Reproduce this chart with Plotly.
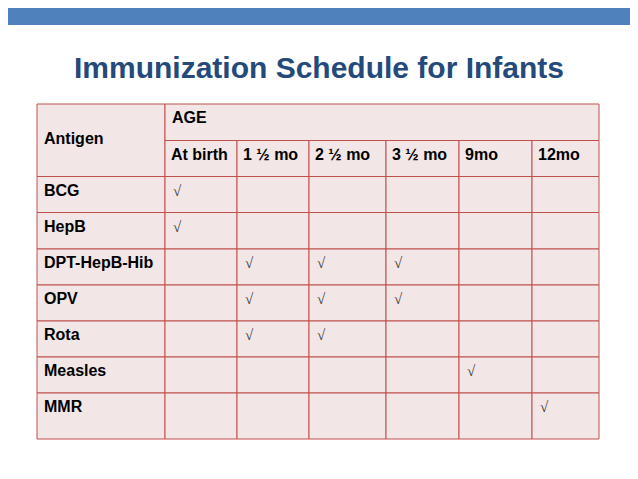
import plotly.graph_objects as go

# table content
antigens = ["BCG", "HepB", "DPT-HepB-Hib", "OPV", "Rota", "Measles", "MMR"]
ages = ["At birth", "1 ½ mo", "2 ½ mo", "3 ½ mo", "9mo", "12mo"]
# 1 = dose given at that age
schedule = [
    [1, 0, 0, 0, 0, 0],
    [1, 0, 0, 0, 0, 0],
    [0, 1, 1, 1, 0, 0],
    [0, 1, 1, 1, 0, 0],
    [0, 1, 1, 0, 0, 0],
    [0, 0, 0, 0, 1, 0],
    [0, 0, 0, 0, 0, 1],
]
title = "Immunization Schedule for Infants"

# layout (pixel grid of the slide); the page body has an 8px margin
W, H = 638, 479
OFF = 8
col_edges = [37, 165, 237, 309, 386, 459, 532, 599]
row_edges = [104, 140.5, 176.5, 212.5, 249, 285, 321, 357, 393, 439]
fill = "#F2E6E7"
border = "#C0504D"
font_txt = "Liberation Sans, Arial"

fig = go.Figure()
shapes = []
annots = []

def cell(x0, x1, y0, y1):
    shapes.append(dict(type="rect", xref="x", yref="y", x0=x0, x1=x1, y0=y0, y1=y1,
                       fillcolor=fill, line=dict(color=border, width=1), layer="below"))

def label(x, y, txt, size=16, bold=True, family=font_txt, color="black"):
    annots.append(dict(x=x, y=y, xref="x", yref="y", text=("<b>%s</b>" % txt) if bold else txt,
                       showarrow=False, xanchor="left", yanchor="middle",
                       font=dict(family=family, size=size, color=color)))

# blue band on top
shapes.append(dict(type="rect", xref="x", yref="y", x0=0, x1=W, y0=0, y1=25,
                   fillcolor="#4F81BD", line=dict(width=0), layer="below"))

# header cells
cell(col_edges[0], col_edges[1], row_edges[0], row_edges[2])
cell(col_edges[1], col_edges[-1], row_edges[0], row_edges[1])
label(col_edges[0] + 5, (row_edges[0] + row_edges[2]) / 2 - 2, "Antigen")
label(col_edges[1] + 5, row_edges[0] + 13.5, "AGE")
for j, a in enumerate(ages):
    cell(col_edges[j + 1], col_edges[j + 2], row_edges[1], row_edges[2])
    label(col_edges[j + 1] + 4, row_edges[1] + 14, a)

# body
for i, ag in enumerate(antigens):
    y0, y1 = row_edges[i + 2], row_edges[i + 3]
    cell(col_edges[0], col_edges[1], y0, y1)
    label(col_edges[0] + 5, y0 + 13.5, ag)
    for j, v in enumerate(schedule[i]):
        cell(col_edges[j + 1], col_edges[j + 2], y0, y1)
        if v:
            label(col_edges[j + 1] + 6, y0 + 14, "√", size=15, bold=False,
                  family="Liberation Serif, serif", color="#333333")

# title
annots.append(dict(x=W / 2, y=67, xref="x", yref="y", text="<b>%s</b>" % title,
                   showarrow=False, xanchor="center", yanchor="middle",
                   font=dict(family=font_txt, size=30, color="#244A7C")))

fig.update_layout(
    width=W - OFF, height=H - OFF,
    margin=dict(l=0, r=0, t=0, b=0),
    paper_bgcolor="white", plot_bgcolor="white",
    shapes=shapes, annotations=annots,
    xaxis=dict(range=[OFF, W], visible=False, fixedrange=True),
    yaxis=dict(range=[H, OFF], visible=False, fixedrange=True),
    showlegend=False,
)

fig.write_html("out.html")
